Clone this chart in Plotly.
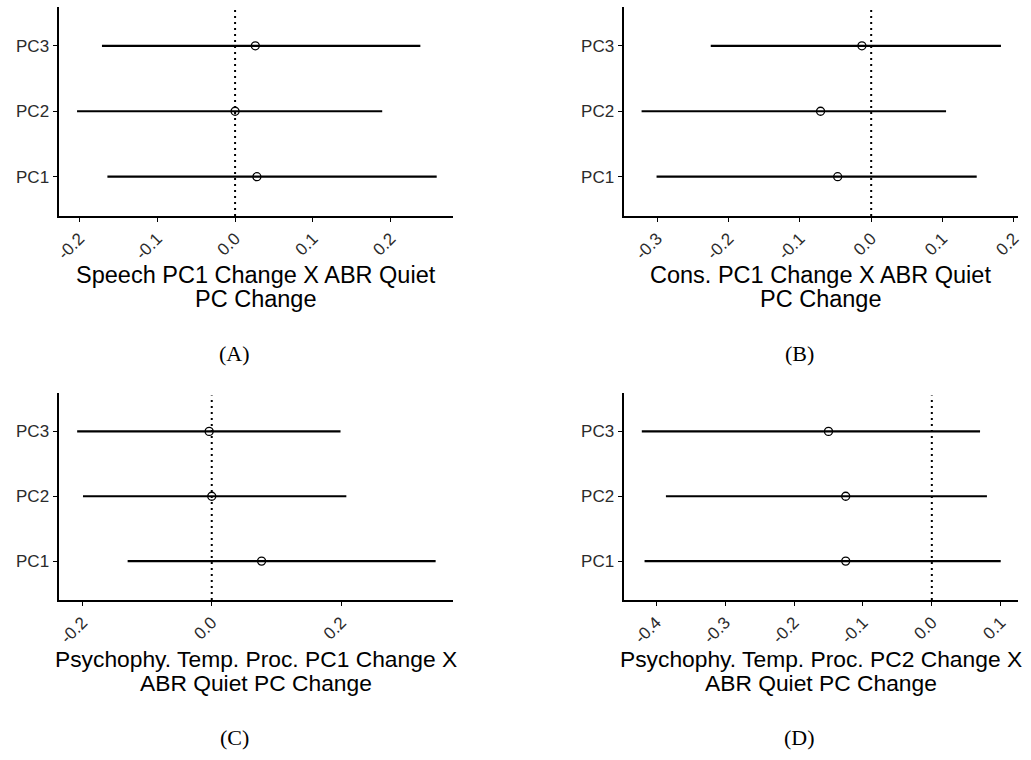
import plotly.graph_objects as go

W, H = 1031, 760

categories = ["PC1", "PC2", "PC3"]
cat_pos = [1, 2, 3]

# Panel A: Speech PC1 Change X ABR Quiet PC Change
a_est = [0.028, 0.000, 0.026]
a_lo = [-0.164, -0.203, -0.171]
a_hi = [0.259, 0.189, 0.238]

# Panel B: Cons. PC1 Change X ABR Quiet PC Change
b_est = [-0.047, -0.071, -0.013]
b_lo = [-0.301, -0.322, -0.225]
b_hi = [0.148, 0.105, 0.182]

# Panel C: Psychophy. Temp. Proc. PC1 Change X ABR Quiet PC Change
c_est = [0.077, 0.000, -0.004]
c_lo = [-0.130, -0.199, -0.208]
c_hi = [0.346, 0.208, 0.199]

# Panel D: Psychophy. Temp. Proc. PC2 Change X ABR Quiet PC Change
d_est = [-0.125, -0.125, -0.150]
d_lo = [-0.417, -0.386, -0.421]
d_hi = [0.100, 0.080, 0.070]

a_ticks = [-0.2, -0.1, 0.0, 0.1, 0.2]
a_ticktext = ["-0.2", "-0.1", "0.0", "0.1", "0.2"]
b_ticks = [-0.3, -0.2, -0.1, 0.0, 0.1, 0.2]
b_ticktext = ["-0.3", "-0.2", "-0.1", "0.0", "0.1", "0.2"]
c_ticks = [-0.2, 0.0, 0.2]
c_ticktext = ["-0.2", "0.0", "0.2"]
d_ticks = [-0.4, -0.3, -0.2, -0.1, 0.0, 0.1]
d_ticktext = ["-0.4", "-0.3", "-0.2", "-0.1", "0.0", "0.1"]

titles = [
    ["Speech PC1 Change X ABR Quiet", "PC Change"],
    ["Cons. PC1 Change X ABR Quiet", "PC Change"],
    ["Psychophy. Temp. Proc. PC1 Change X", "ABR Quiet PC Change"],
    ["Psychophy. Temp. Proc. PC2 Change X", "ABR Quiet PC Change"],
]
panel_labels = ["(A)", "(B)", "(C)", "(D)"]

panels = [
    (a_est, a_lo, a_hi, a_ticks, a_ticktext),
    (b_est, b_lo, b_hi, b_ticks, b_ticktext),
    (c_est, c_lo, c_hi, c_ticks, c_ticktext),
    (d_est, d_lo, d_hi, d_ticks, d_ticktext),
]

# layout geometry (pixels)
x_left = [(55, 453), (625, 1023), (55, 453), (625, 1023)]
y_top = [(6.5, 216), (6.5, 216), (392.5, 600), (392.5, 600)]
x_ranges = [(-0.2268, 0.280), (-0.3473, 0.206), (-0.2368, 0.3729), (-0.4475, 0.1252)]
title_sizes = [23.5, 23.5, 22.8, 22.8]

SANS = "Liberation Sans, Arial, sans-serif"

fig = go.Figure()
layout = dict(
    width=W, height=H,
    margin=dict(l=0, r=0, t=0, b=0),
    paper_bgcolor="white", plot_bgcolor="white",
    showlegend=False,
    font=dict(family=SANS, color="black"),
)
shapes = []
annotations = []

for i, (est, lo, hi, ticks, ticktext) in enumerate(panels):
    n = i + 1
    xa = "x" if n == 1 else f"x{n}"
    ya = "y" if n == 1 else f"y{n}"
    xkey = "xaxis" if n == 1 else f"xaxis{n}"
    ykey = "yaxis" if n == 1 else f"yaxis{n}"
    plus = [h - e for h, e in zip(hi, est)]
    minus = [e - l for e, l in zip(est, lo)]
    fig.add_trace(go.Scatter(
        x=est, y=cat_pos, xaxis=xa, yaxis=ya, mode="markers",
        marker=dict(symbol="circle-open", size=8, color="black", line=dict(width=1.3, color="black")),
        error_x=dict(type="data", symmetric=False, array=plus, arrayminus=minus,
                     width=0, thickness=2.2, color="black"),
        hoverinfo="skip",
    ))
    x0, x1 = x_left[i]
    t0, t1 = y_top[i]
    layout[xkey] = dict(
        domain=[x0 / W, x1 / W], anchor=ya, range=list(x_ranges[i]),
        tickmode="array", tickvals=ticks, ticktext=ticktext, tickangle=-45,
        ticks="outside", ticklen=4, tickwidth=1.2, tickcolor="black",
        showline=True, linecolor="black", linewidth=2, showgrid=False, zeroline=False,
        tickfont=dict(size=17, color="#2b2b2b", family=SANS),
        fixedrange=True,
    )
    layout[ykey] = dict(
        domain=[1 - t1 / H, 1 - t0 / H], anchor=xa, range=[0.4, 3.6],
        tickmode="array", tickvals=cat_pos, ticktext=categories,
        ticks="outside", ticklen=4, tickwidth=1.2, tickcolor="black",
        showline=True, linecolor="black", linewidth=2, showgrid=False, zeroline=False,
        tickfont=dict(size=17, color="#2b2b2b", family=SANS),
        fixedrange=True,
    )
    shapes.append(dict(type="line", xref=xa, yref=f"{ya} domain", x0=0, x1=0, y0=0, y1=0.985,
                       line=dict(color="black", width=2, dash="2px,4px"), layer="above"))
    cx = (x0 + x1) / 2 / W
    line_y = [t1 + 59, t1 + 82.5]
    for j, txt in enumerate(titles[i]):
        annotations.append(dict(text=txt, x=cx, y=1 - line_y[j] / H, xref="paper", yref="paper",
                                xanchor="center", yanchor="middle", showarrow=False,
                                font=dict(size=title_sizes[i], color="black", family=SANS)))
    annotations.append(dict(text=panel_labels[i], x=(x0 + x1) / 2 / W - 21 / W, y=1 - (t1 + 137) / H,
                            xref="paper", yref="paper", xanchor="center", yanchor="middle",
                            showarrow=False,
                            font=dict(size=22, color="black", family="Liberation Serif, DejaVu Serif, serif")))

layout["shapes"] = shapes
layout["annotations"] = annotations
fig.update_layout(**layout)
fig.write_html("out.html")
